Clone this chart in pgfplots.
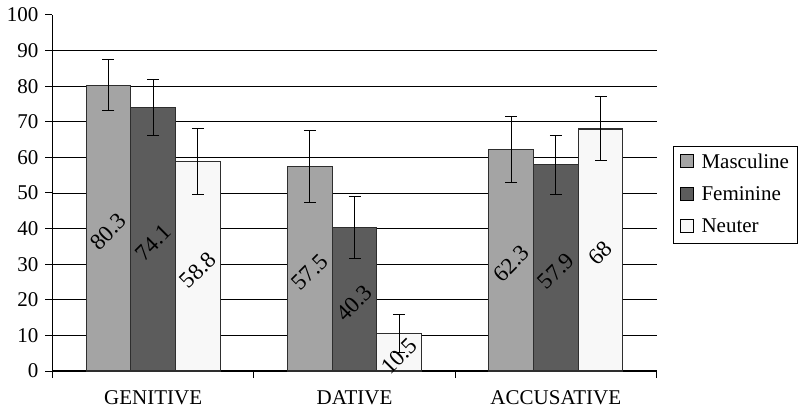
\documentclass[border=0pt]{standalone}
\usepackage{fontspec}
\setmainfont{Liberation Serif}
\usepackage{pgfplots}
\pgfplotsset{compat=1.18}

\definecolor{masc}{HTML}{A4A4A4}
\definecolor{fem}{HTML}{5C5C5C}
\definecolor{neut}{HTML}{F8F8F8}
\definecolor{edge}{HTML}{2E2E2E}

% case, value, error
\pgfplotstableread{
x y e
0 80.3 7.2
1 57.5 10.1
2 62.3 9.3
}\masc
\pgfplotstableread{
x y e
0 74.1 7.9
1 40.3 8.8
2 57.9 8.2
}\fem
\pgfplotstableread{
x y e
0 58.8 9.3
1 10.5 5.4
2 68 9.0
}\neut

\begin{document}
\fontsize{21bp}{25bp}\selectfont
\begin{tikzpicture}
\useasboundingbox (-52.5bp,-38bp) rectangle (747.5bp,371bp);
\begin{axis}[
    scale only axis,
    width=604bp, height=356bp,
    at={(0,0)}, anchor=south west,
    xmin=-0.5, xmax=2.5,
    ymin=0, ymax=100,
    axis lines=left,
    axis line style={-, line width=1.2bp, black},
    ybar=0pt, bar width=44.7bp,
    xtick={-0.5,0.5,1.5,2.5}, xticklabels={},
    extra x ticks={0,1,2},
    extra x tick labels={GENITIVE,DATIVE,ACCUSATIVE},
    extra x tick style={tick style={draw=none},
        xticklabel style={yshift=-5bp}},
    ytick={0,10,...,100},
    extra y ticks={10,20,...,90},
    extra y tick labels={},
    extra y tick style={ymajorgrids=true, tick style={draw=none}},
    major grid style={black, line width=0.9bp},
    tick align=outside,
    major tick length=7bp,
    tick style={black, line width=1bp},
    tick label style={font=\fontsize{21bp}{25bp}\selectfont},
    /pgf/number format/assume math mode=true,
    visualization depends on=rawy \as \rawy,
    nodes near coords,
    every node near coord/.append style={
        shift={(axis direction cs:0,-\rawy/2-1)},
        anchor=center, rotate=45, black,
        font=\fontsize{23bp}{27bp}\selectfont},
    legend style={
        at={(1.0274,0.632)}, anchor=north west,
        draw=black, line width=1bp,
        inner xsep=6bp, inner ysep=5bp,
        row sep=11.5bp,
        font=\fontsize{21bp}{25bp}\selectfont},
    legend cell align=left,
    legend image code/.code={
        \draw[#1, line width=0.8bp, draw=black] (0bp,-5bp) rectangle (13bp,8bp);
        \path (19bp,0bp);},
    error bars/y dir=both,
    error bars/y explicit,
    error bars/error bar style={black, line width=1bp},
    error bars/error mark options={rotate=90, mark size=6bp, black, line width=1bp},
]
\addplot[fill=masc, draw=edge, line width=1.2bp] table[x=x, y=y, y error=e] {\masc};
\addplot[fill=fem, draw=edge, line width=1.2bp] table[x=x, y=y, y error=e] {\fem};
\addplot[fill=neut, draw=edge, line width=1.2bp] table[x=x, y=y, y error=e] {\neut};
\legend{Masculine, Feminine, Neuter}
\end{axis}
\end{tikzpicture}
\end{document}
